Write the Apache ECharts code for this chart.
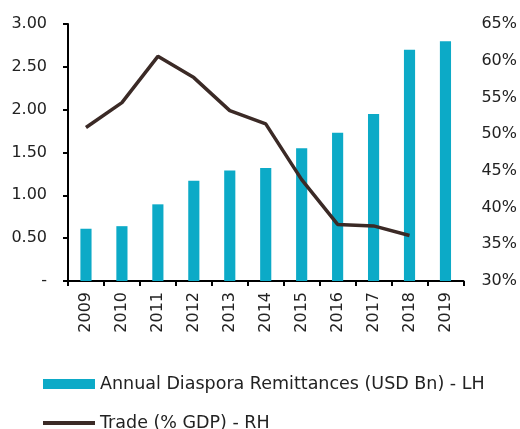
<!DOCTYPE html>
<html>
<head>
<meta charset="utf-8">
<title>Remittances and Trade</title>
<script src="https://cdn.jsdelivr.net/npm/echarts@6/dist/echarts.min.js"></script>
<style>
  html, body { margin: 0; padding: 0; background: #fff; }
  #chart { width: 520px; height: 429px; }
</style>
</head>
<body>
<div id="chart"></div>
<script>
// data
var years = ['2009', '2010', '2011', '2012', '2013', '2014', '2015', '2016', '2017', '2018', '2019'];
var remittances = [0.61, 0.64, 0.895, 1.17, 1.29, 1.32, 1.55, 1.73, 1.95, 2.70, 2.80];
var tradePct = [50.9, 54.3, 60.6, 57.7, 53.2, 51.4, 43.8, 37.7, 37.5, 36.2, null];
var barName = 'Annual Diaspora Remittances (USD Bn) - LH';
var lineName = 'Trade (% GDP) - RH';

var font = "'DejaVu Sans', sans-serif";
var chart = echarts.init(document.getElementById('chart'));

chart.setOption({
    animation: false,
    textStyle: { fontFamily: font },
    grid: { left: 68, right: 55, top: 24, bottom: 148 },
    legend: [{
        data: [barName],
        left: 43, top: 375, padding: 0,
        icon: 'rect', itemWidth: 52, itemHeight: 10, itemGap: 5,
        textStyle: { fontSize: 17.5, color: '#222', fontFamily: font }
    }, {
        data: [lineName],
        left: 43, top: 414, padding: 0,
        icon: 'rect', itemWidth: 52, itemHeight: 4, itemGap: 5,
        textStyle: { fontSize: 17.5, color: '#222', fontFamily: font }
    }],
    xAxis: {
        type: 'category',
        data: years,
        axisLine: { lineStyle: { color: '#000', width: 2 } },
        axisTick: { show: true, length: 5, lineStyle: { color: '#000', width: 2 } },
        axisLabel: { rotate: 90, fontSize: 16, color: '#222', margin: 11 }
    },
    yAxis: [{
        type: 'value',
        min: 0, max: 3, interval: 0.5,
        splitLine: { show: false },
        axisLine: { show: true, lineStyle: { color: '#000', width: 2 } },
        axisTick: { show: true, length: 5, lineStyle: { color: '#000', width: 2 } },
        axisLabel: {
            fontSize: 16, color: '#222', margin: 21,
            formatter: function (v) { return v === 0 ? '-' : v.toFixed(2); }
        }
    }, {
        type: 'value',
        min: 30, max: 65, interval: 5,
        position: 'right',
        splitLine: { show: false },
        axisLine: { show: false },
        axisTick: { show: false },
        axisLabel: {
            fontSize: 16, color: '#222', margin: 18,
            formatter: function (v) { return v + '%'; }
        }
    }],
    series: [{
        name: barName,
        type: 'bar',
        data: remittances,
        barWidth: '31%',
        itemStyle: { color: '#0CAAC7' }
    }, {
        name: lineName,
        type: 'line',
        yAxisIndex: 1,
        data: tradePct,
        symbol: 'none',
        lineStyle: { color: '#3B2A26', width: 3.5 },
        itemStyle: { color: '#3B2A26' }
    }]
});
</script>
</body>
</html>
